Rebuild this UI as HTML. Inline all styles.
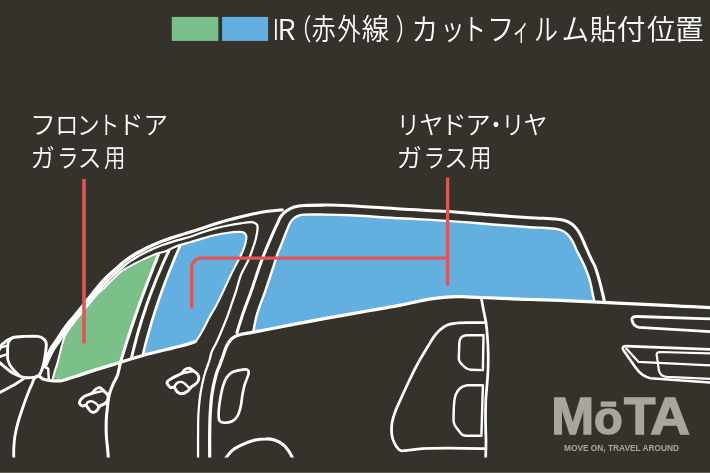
<!DOCTYPE html>
<html lang="ja">
<head>
<meta charset="utf-8">
<title>IR（赤外線）カットフィルム貼付位置</title>
<style>
html,body{margin:0;padding:0;background:#35312b;}
body{width:710px;height:473px;overflow:hidden;position:relative;font-family:"Liberation Sans","Noto Sans CJK JP",sans-serif;}
#stage{position:absolute;left:0;top:0;width:710px;height:473px;background:#35312b;overflow:hidden;}
svg{position:absolute;left:0;top:0;display:block;will-change:transform;}
.jp{font-family:"Noto Sans CJK JP DemiLight","Noto Sans CJK JP","Liberation Sans",sans-serif;font-weight:300;fill:#fff;}
.logo{font-family:"Liberation Sans",sans-serif;font-weight:700;fill:#a9a6a0;}
</style>
</head>
<body>
<div id="stage">
<svg width="710" height="473" viewBox="0 0 710 473">
<defs><clipPath id="clipdraw"><rect x="0" y="0" width="710" height="457.6"/></clipPath></defs>
<g clip-path="url(#clipdraw)">
<path d="M53.8 378.5 C54.2 377.1 55.5 372.4 56.2 370.0 C57.0 367.6 57.6 366.2 58.3 363.8 C59.0 361.4 59.7 358.2 60.4 355.4 C61.1 352.6 61.8 349.6 62.5 347.0 C63.2 344.4 63.9 341.9 64.5 340.0 C65.1 338.1 65.2 337.4 66.2 335.5 C67.2 333.6 68.7 331.3 70.3 328.9 C71.9 326.5 74.2 323.6 76.0 321.3 C77.8 319.0 79.5 316.9 81.1 315.0 C82.6 313.1 82.4 313.3 85.3 310.0 C88.2 306.7 94.8 298.7 98.2 295.0 C101.6 291.3 102.8 290.6 105.4 288.0 C108.0 285.4 111.0 282.4 113.8 279.7 C116.6 277.0 119.5 274.0 122.3 271.9 C125.1 269.8 128.7 268.0 130.7 266.9 C132.7 265.8 131.9 266.1 134.1 265.0 C136.3 263.9 141.3 261.5 144.0 260.2 C146.7 258.9 148.6 258.1 150.4 257.3 C152.2 256.5 153.6 255.8 155.0 255.3 C156.4 254.8 158.0 254.4 158.6 254.2L158.3 255.2 C157.6 256.8 155.7 261.7 154.3 265.0 C153.0 268.3 151.7 271.7 150.4 275.0 C149.1 278.3 147.8 281.7 146.6 285.0 C145.3 288.3 144.1 291.7 142.8 295.0 C141.6 298.3 140.4 301.7 139.2 305.0 C138.0 308.3 136.9 311.7 135.7 315.0 C134.6 318.3 133.4 321.7 132.3 325.0 C131.2 328.3 130.1 331.7 129.0 335.0 C127.9 338.3 126.9 341.6 125.8 345.0 C124.7 348.4 123.5 352.6 122.6 355.4 C121.7 358.2 121.0 360.7 120.7 361.8 L62 380.3 Z" fill="#7ac089"/>
<path d="M179.8 246.5 C179.1 248.1 177.0 252.8 175.6 256.0 C174.3 259.2 172.8 262.7 171.5 266.0 C170.1 269.3 168.8 272.7 167.5 276.0 C166.2 279.3 164.9 282.7 163.7 286.0 C162.4 289.3 161.3 292.7 160.1 296.0 C158.9 299.3 157.8 302.7 156.7 306.0 C155.6 309.3 154.5 312.7 153.5 316.0 C152.4 319.3 151.4 322.7 150.5 326.0 C149.5 329.3 148.6 332.7 147.7 336.0 C146.7 339.3 145.8 342.9 145.0 346.0 C144.3 349.1 143.3 353.1 143.0 354.5 L195.2 341.8 L195.2 341.8 C195.4 341.6 195.2 342.4 196.5 340.5 C197.8 338.6 200.7 334.1 202.8 330.3 C204.9 326.5 207.0 321.8 209.2 317.7 C211.4 313.6 213.9 309.9 216.0 306.0 C218.1 302.1 219.4 299.5 221.8 294.4 C224.2 289.3 227.9 281.0 230.7 275.3 C233.5 269.6 236.4 264.1 238.5 260.0 C240.6 255.9 241.8 253.7 243.0 250.7 C244.2 247.7 245.3 244.3 245.8 241.8 C246.3 239.3 246.6 237.1 246.2 235.5 C245.8 233.9 244.5 232.9 243.2 232.3 C241.9 231.7 239.0 232.0 238.2 231.9L238.2 231.9 C236.5 232.1 231.8 232.3 228.0 232.8 C224.2 233.3 219.5 234.1 215.3 235.0 C211.1 235.9 206.9 237.2 202.7 238.4 C198.5 239.6 193.8 241.0 190.0 242.2 C186.2 243.4 181.5 245.2 179.8 245.8Z" fill="#63afe0"/>
<path d="M253.5 330.5 C253.9 328.4 255.1 321.8 256.0 318.0 C256.9 314.2 257.5 312.4 259.0 308.0 C260.5 303.6 262.8 298.1 265.0 291.8 C267.2 285.5 270.3 276.1 272.3 270.0 C274.3 263.9 275.8 258.8 277.1 255.0 C278.4 251.2 278.9 250.4 280.3 247.0 C281.7 243.6 283.7 238.2 285.3 234.3 C286.9 230.4 288.5 226.0 289.8 223.5 C291.1 221.0 291.6 220.4 293.0 219.1 C294.4 217.8 296.1 216.7 298.0 215.9 C299.9 215.2 300.2 214.8 304.4 214.6 C308.6 214.4 315.8 214.5 323.4 214.6 C331.0 214.7 337.1 214.7 350.0 215.3 C362.9 215.9 384.4 217.4 400.7 218.3 C417.0 219.2 432.8 219.9 447.6 220.9 C462.4 221.9 475.8 223.1 489.5 224.2 C503.2 225.2 521.1 226.6 530.0 227.2 C538.9 227.8 538.5 227.5 542.7 227.8 C546.9 228.1 551.9 228.3 555.3 228.8 C558.7 229.3 560.9 230.0 563.0 231.0 C565.1 232.0 566.4 233.1 568.0 234.8 C569.6 236.5 571.1 238.6 572.5 241.1 C573.9 243.6 575.3 247.5 576.5 250.0 C577.7 252.5 578.6 254.0 579.6 256.0 C580.6 258.0 581.7 260.1 582.6 262.0 C583.5 263.9 584.1 264.6 585.3 267.7 C586.5 270.8 588.6 276.3 589.8 280.3 C591.0 284.3 591.6 288.4 592.3 291.8 C593.0 295.2 593.9 299.5 594.2 301.0L598.0 302.1 C591.7 301.8 571.3 300.8 560.0 300.4 C548.7 300.0 539.7 299.8 530.0 299.5 C520.3 299.2 510.0 298.7 502.0 298.4 C494.0 298.1 487.8 297.8 481.8 297.5 C475.8 297.2 471.2 296.9 466.0 296.8 C460.8 296.7 457.5 296.4 450.7 296.9 C443.9 297.4 433.6 298.4 425.3 299.8 C417.0 301.2 409.0 303.6 400.7 305.2 C392.4 306.8 383.8 308.1 375.4 309.6 C366.9 311.1 361.4 312.1 350.0 314.1 C338.6 316.1 320.3 319.3 307.0 321.8 C293.7 324.3 278.9 327.3 270.0 329.0 C261.1 330.7 256.2 331.7 253.5 332.2Z" fill="#63afe0"/>
<path d="M41.9 365.5 C43.0 362.8 46.2 354.1 48.6 349.5 C51.0 344.9 53.6 341.9 56.3 337.8 C59.0 333.7 61.5 329.5 64.9 325.0 C68.3 320.5 72.4 316.0 76.5 311.0 C80.6 306.0 85.9 299.3 89.3 295.0 C92.7 290.7 94.2 288.5 96.9 285.4 C99.6 282.2 102.6 278.9 105.4 276.1 C108.2 273.3 111.0 271.0 113.8 268.5 C116.6 266.0 119.5 263.1 122.3 260.9 C125.1 258.6 128.1 256.7 130.7 255.0 C133.3 253.3 134.7 252.4 138.0 250.6 C141.3 248.8 146.5 246.1 150.7 244.2 C154.9 242.3 159.2 240.6 163.4 239.0 C167.6 237.4 171.6 236.1 176.0 234.7 C180.4 233.3 185.6 231.8 190.0 230.4 C194.4 229.1 198.5 227.9 202.7 226.6 C206.9 225.2 211.1 223.6 215.3 222.3 C219.5 221.0 223.8 219.8 228.0 218.6 C232.2 217.4 236.5 216.2 240.7 215.2 C244.9 214.1 249.2 213.2 253.4 212.3 C257.6 211.4 261.0 210.6 266.0 209.9 C271.0 209.2 280.5 208.5 283.4 208.2L283.7 211.3 C280.8 211.6 271.4 212.3 266.4 213.0 C261.5 213.6 258.2 214.5 254.0 215.3 C249.9 216.2 245.6 217.2 241.4 218.2 C237.2 219.3 233.0 220.4 228.8 221.6 C224.6 222.8 220.4 223.9 216.2 225.3 C212.0 226.6 207.9 228.2 203.6 229.6 C199.4 230.9 195.4 232.1 190.9 233.5 C186.5 234.8 181.4 236.3 177.0 237.7 C172.6 239.2 168.7 240.5 164.6 242.1 C160.4 243.7 156.3 245.4 152.1 247.3 C148.0 249.2 142.9 251.9 139.7 253.7 C136.4 255.5 135.2 256.3 132.7 258.0 C130.2 259.7 127.3 261.6 124.6 263.8 C121.9 266.0 119.1 268.8 116.3 271.3 C113.6 273.8 110.8 276.0 108.1 278.8 C105.3 281.5 102.4 284.8 99.8 287.9 C97.2 291.0 95.7 293.1 92.3 297.4 C88.9 301.6 83.5 308.4 79.4 313.4 C75.4 318.4 71.3 322.9 67.9 327.3 C64.6 331.7 62.1 335.9 59.5 339.9 C56.8 343.9 54.3 346.8 52.0 351.3 C49.6 355.8 46.3 364.3 45.2 366.9Z" fill="#fff"/>
<g fill="none" stroke="#fff" stroke-linecap="round" stroke-linejoin="round">
<path d="M45.6 367.0 C46.8 364.5 50.2 356.0 52.6 351.6 C55.0 347.1 57.5 344.4 60.2 340.4 C62.9 336.4 65.3 332.2 68.7 327.8 C72.0 323.4 76.1 318.9 80.1 314.0 C84.2 309.0 89.6 302.2 93.1 298.0 C96.5 293.8 98.0 291.6 100.6 288.6 C103.3 285.5 106.2 282.4 108.9 279.6 C111.7 276.9 114.4 274.7 117.1 272.2 C119.9 269.7 122.7 267.0 125.4 264.8 C128.1 262.6 131.0 260.8 133.4 259.2 C135.9 257.5 137.1 256.7 140.4 255.0 C143.6 253.3 148.7 250.7 152.9 248.9 C157.0 247.1 161.2 245.6 165.3 244.1 C169.5 242.7 173.4 241.5 177.8 240.2 C182.2 238.9 187.7 237.7 191.8 236.3 C196.0 235.0 198.8 233.5 202.7 232.2 C206.6 230.9 211.1 229.5 215.3 228.4 C219.5 227.3 223.8 226.3 228.0 225.5 C232.2 224.7 236.9 223.9 240.7 223.3 C244.5 222.8 248.3 222.2 250.8 222.2 C253.3 222.2 254.4 222.7 255.5 223.4 C256.6 224.1 257.5 224.2 257.6 226.6 C257.7 229.0 256.9 234.0 256.0 238.0 C255.1 242.0 253.3 246.9 252.0 250.7 C250.7 254.5 249.9 256.9 248.0 261.0 C246.1 265.1 242.8 270.2 240.8 275.3 C238.8 280.4 237.4 286.9 235.8 291.8 C234.2 296.8 232.8 300.7 231.3 305.0 C229.8 309.3 228.5 313.5 226.9 317.7 C225.3 321.9 223.5 326.3 221.8 330.3 C220.1 334.3 218.5 338.2 216.8 341.8 C215.1 345.4 212.9 348.8 211.7 351.9 C210.5 355.0 210.6 356.6 209.4 360.5 C208.2 364.4 205.8 369.9 204.3 375.5 C202.8 381.1 201.4 387.6 200.4 394.0 C199.4 400.4 198.8 407.7 198.4 414.2 C198.0 420.7 198.2 425.2 198.1 432.8 C198.0 440.4 198.1 455.5 198.1 460.0" stroke-width="2.25"/>
<path d="M52.9 378.3 C53.3 376.8 54.6 372.2 55.3 369.7 C56.1 367.3 56.7 366.0 57.4 363.6 C58.1 361.1 58.8 358.0 59.5 355.2 C60.2 352.4 60.9 349.3 61.6 346.8 C62.3 344.2 63.0 341.7 63.6 339.7 C64.3 337.8 64.4 337.0 65.4 335.1 C66.4 333.2 67.9 330.8 69.6 328.4 C71.2 326.0 73.5 323.1 75.3 320.7 C77.1 318.4 78.9 316.3 80.4 314.4 C82.0 312.5 81.8 312.8 84.6 309.4 C87.5 306.1 94.2 298.1 97.5 294.4 C100.9 290.7 102.2 289.9 104.8 287.4 C107.4 284.8 110.3 281.7 113.2 279.0 C116.0 276.4 118.9 273.3 121.8 271.2 C124.6 269.0 128.3 267.3 130.2 266.1 C132.2 265.0 131.5 265.3 133.7 264.2 C135.9 263.1 140.9 260.7 143.6 259.4 C146.3 258.1 148.2 257.3 150.0 256.5 C151.9 255.7 153.3 255.0 154.7 254.5 C156.1 253.9 156.3 254.0 158.3 253.3 C160.4 252.7 164.1 251.9 167.0 250.7 C169.9 249.5 172.2 247.8 176.0 246.4 C179.8 245.0 185.6 243.5 190.0 242.2 C194.4 240.9 198.5 239.6 202.7 238.4 C206.9 237.2 211.1 235.9 215.3 235.0 C219.5 234.1 224.2 233.3 228.0 232.8 C231.8 232.3 235.7 232.0 238.2 231.9 C240.7 231.8 241.9 231.7 243.2 232.3 C244.5 232.9 245.8 233.9 246.2 235.5 C246.6 237.1 246.3 239.3 245.8 241.8 C245.3 244.3 244.2 247.7 243.0 250.7 C241.8 253.7 240.6 255.9 238.5 260.0 C236.4 264.1 233.5 269.6 230.7 275.3 C227.9 281.0 224.2 289.3 221.8 294.4 C219.4 299.5 218.1 302.1 216.0 306.0 C213.9 309.9 211.4 313.6 209.2 317.7 C207.0 321.8 204.9 326.5 202.8 330.3 C200.7 334.1 197.8 338.6 196.5 340.5 C195.2 342.4 195.4 341.6 195.2 341.8" stroke-width="2.15"/>
<path d="M158.3 255.2 C157.6 256.8 155.7 261.7 154.3 265.0 C153.0 268.3 151.7 271.7 150.4 275.0 C149.1 278.3 147.8 281.7 146.6 285.0 C145.3 288.3 144.1 291.7 142.8 295.0 C141.6 298.3 140.4 301.7 139.2 305.0 C138.0 308.3 136.9 311.7 135.7 315.0 C134.6 318.3 133.4 321.7 132.3 325.0 C131.2 328.3 130.1 331.7 129.0 335.0 C127.9 338.3 126.9 341.6 125.8 345.0 C124.7 348.4 123.5 352.6 122.6 355.4 C121.7 358.2 121.5 358.5 120.7 361.8 C119.8 365.1 118.7 371.3 117.5 375.0 C116.3 378.7 114.5 380.7 113.2 383.9 C111.9 387.1 110.4 390.2 109.4 394.0 C108.5 397.8 108.0 402.5 107.5 406.7 C107.0 410.9 106.5 414.7 106.3 419.4 C106.1 424.1 106.1 430.1 106.3 435.0 C106.5 439.9 107.2 444.4 107.6 448.6 C108.0 452.8 108.3 458.1 108.5 460.0" stroke-width="3.05"/>
<path d="M169.0 250.3 C168.3 251.9 166.0 256.7 164.5 260.0 C163.1 263.3 161.6 266.7 160.2 270.0 C158.8 273.3 157.4 276.7 156.0 280.0 C154.7 283.3 153.4 286.7 152.1 290.0 C150.9 293.3 149.6 296.7 148.4 300.0 C147.2 303.3 146.1 306.7 145.0 310.0 C143.9 313.3 142.8 316.7 141.7 320.0 C140.7 323.3 139.7 326.7 138.7 330.0 C137.8 333.3 136.8 336.7 136.0 340.0 C135.1 343.3 134.1 346.9 133.4 350.0 C132.6 353.1 131.8 356.9 131.4 358.3" stroke-width="2.95"/>
<path d="M179.8 246.5 C179.1 248.1 177.0 252.8 175.6 256.0 C174.3 259.2 172.8 262.7 171.5 266.0 C170.1 269.3 168.8 272.7 167.5 276.0 C166.2 279.3 164.9 282.7 163.7 286.0 C162.4 289.3 161.3 292.7 160.1 296.0 C158.9 299.3 157.8 302.7 156.7 306.0 C155.6 309.3 154.5 312.7 153.5 316.0 C152.4 319.3 151.4 322.7 150.5 326.0 C149.5 329.3 148.6 332.7 147.7 336.0 C146.7 339.3 145.8 342.9 145.0 346.0 C144.3 349.1 143.3 353.1 143.0 354.5" stroke-width="2.65"/>
<path d="M39.0 376.0 C39.9 376.6 42.0 378.7 44.4 379.5 C46.8 380.3 50.6 380.7 53.2 380.9 C55.8 381.1 58.3 380.9 60.0 380.8 C61.7 380.7 60.7 380.9 63.4 380.2 C66.1 379.4 71.6 377.7 76.0 376.3 C80.4 374.9 82.2 374.1 90.0 371.6 C97.8 369.1 113.9 364.3 123.0 361.5 C132.1 358.7 135.0 357.6 144.5 355.0 C154.0 352.4 171.6 348.4 180.0 346.2 C188.4 344.0 192.7 342.5 195.2 341.8" stroke-width="3.25"/>
<path d="M44.4 366.8 L48.2 368.7 L48.8 379.5" stroke-width="2.45"/>
<path d="M237.0 332.5 C237.6 330.4 239.4 324.4 240.8 320.2 C242.2 315.9 243.6 311.7 245.3 307.0 C247.0 302.3 248.8 298.1 251.0 291.8 C253.2 285.5 256.5 275.1 258.6 269.0 C260.7 262.9 261.7 260.4 263.8 255.0 C265.9 249.6 269.3 241.7 271.4 236.8 C273.5 231.9 274.9 228.8 276.5 225.4 C278.1 222.0 279.2 218.9 280.9 216.5 C282.6 214.1 284.4 212.4 286.6 210.8 C288.8 209.2 291.2 207.9 294.2 207.0 C297.2 206.1 299.5 205.7 304.4 205.4 C309.3 205.1 315.8 205.1 323.4 205.1 C331.0 205.1 337.1 205.0 350.0 205.7 C362.9 206.3 384.4 208.0 400.7 209.0 C417.0 210.0 432.8 210.5 447.6 211.5 C462.4 212.5 475.8 213.8 489.5 214.8 C503.2 215.9 521.1 217.2 530.0 217.8 C538.9 218.4 538.5 218.1 542.7 218.3 C546.9 218.5 551.5 218.7 555.3 219.1 C559.1 219.5 562.8 220.0 565.5 220.8 C568.2 221.6 569.9 222.6 571.8 224.0 C573.7 225.4 575.4 227.2 576.9 229.1 C578.4 231.0 579.2 232.4 580.7 235.4 C582.2 238.4 584.1 243.0 585.8 246.8 C587.5 250.6 589.2 254.7 590.8 258.2 C592.4 261.7 594.1 264.0 595.5 267.7 C596.9 271.4 598.1 276.1 599.3 280.3 C600.5 284.5 601.6 289.5 602.5 293.0 C603.4 296.5 604.1 300.1 604.4 301.5" stroke-width="3.05"/>
<path d="M253.5 330.5 C253.9 328.4 255.1 321.8 256.0 318.0 C256.9 314.2 257.5 312.4 259.0 308.0 C260.5 303.6 262.8 298.1 265.0 291.8 C267.2 285.5 270.3 276.1 272.3 270.0 C274.3 263.9 275.8 258.8 277.1 255.0 C278.4 251.2 278.9 250.4 280.3 247.0 C281.7 243.6 283.7 238.2 285.3 234.3 C286.9 230.4 288.5 226.0 289.8 223.5 C291.1 221.0 291.6 220.4 293.0 219.1 C294.4 217.8 296.1 216.7 298.0 215.9 C299.9 215.2 300.2 214.8 304.4 214.6 C308.6 214.4 315.8 214.5 323.4 214.6 C331.0 214.7 337.1 214.7 350.0 215.3 C362.9 215.9 384.4 217.4 400.7 218.3 C417.0 219.2 432.8 219.9 447.6 220.9 C462.4 221.9 475.8 223.1 489.5 224.2 C503.2 225.2 521.1 226.6 530.0 227.2 C538.9 227.8 538.5 227.5 542.7 227.8 C546.9 228.1 551.9 228.3 555.3 228.8 C558.7 229.3 560.9 230.0 563.0 231.0 C565.1 232.0 566.4 233.1 568.0 234.8 C569.6 236.5 571.1 238.6 572.5 241.1 C573.9 243.6 575.3 247.5 576.5 250.0 C577.7 252.5 578.6 254.0 579.6 256.0 C580.6 258.0 581.7 260.1 582.6 262.0 C583.5 263.9 584.1 264.6 585.3 267.7 C586.5 270.8 588.6 276.3 589.8 280.3 C591.0 284.3 591.6 288.4 592.3 291.8 C593.0 295.2 593.9 299.5 594.2 301.0" stroke-width="2.45"/>
<path d="M209.7 460.0 C209.7 455.5 209.6 440.4 209.7 432.8 C209.8 425.2 209.8 420.7 210.2 414.2 C210.6 407.7 211.1 400.4 212.0 394.0 C212.9 387.6 214.6 380.3 215.9 375.5 C217.2 370.7 218.6 368.3 219.8 365.0 C221.0 361.7 221.9 358.9 223.1 355.7 C224.3 352.5 225.4 348.5 226.9 345.6 C228.4 342.8 229.9 340.4 232.0 338.6 C234.1 336.8 236.0 335.9 239.6 334.8 C243.2 333.7 248.4 333.2 253.5 332.2 C258.6 331.2 261.1 330.7 270.0 329.0 C278.9 327.3 293.7 324.3 307.0 321.8 C320.3 319.3 338.6 316.1 350.0 314.1 C361.4 312.1 366.9 311.1 375.4 309.6 C383.8 308.1 392.4 306.8 400.7 305.2 C409.0 303.6 417.0 301.2 425.3 299.8 C433.6 298.4 443.9 297.4 450.7 296.9 C457.5 296.4 460.8 296.7 466.0 296.8 C471.2 296.9 475.8 297.2 481.8 297.5 C487.8 297.8 494.0 298.1 502.0 298.4 C510.0 298.7 520.3 299.2 530.0 299.5 C539.7 299.8 548.7 300.0 560.0 300.4 C571.3 300.8 583.0 301.4 598.0 302.1 C613.0 302.8 635.8 304.0 650.0 304.7 C664.2 305.4 672.7 305.8 683.0 306.3 C693.3 306.8 707.2 307.4 712.0 307.6" stroke-width="3.25"/>
<path d="M-3.0 353.0 C-2.5 352.2 -0.9 349.9 0.0 348.4 C0.9 346.9 0.4 345.8 2.5 344.0 C4.6 342.2 8.9 339.0 12.7 337.7 C16.5 336.4 21.1 336.6 25.3 336.4 C29.5 336.2 34.9 336.0 38.0 336.4 C41.1 336.8 42.3 337.7 43.7 339.0 C45.1 340.3 46.1 341.1 46.3 344.0 C46.5 346.9 45.6 352.7 45.0 356.7 C44.4 360.7 43.5 364.9 42.5 368.0 C41.5 371.1 40.5 373.5 39.3 375.0 C38.1 376.5 37.9 376.6 35.5 377.0 C33.1 377.4 28.8 378.3 25.0 377.6 C21.2 376.9 16.9 375.4 12.7 373.0 C8.5 370.6 2.6 365.2 0.0 363.0 C-2.6 360.8 -2.5 360.5 -3.0 360.0" stroke-width="2.95"/>
<path d="M11.5 338.3 C10.9 339.1 8.8 340.7 8.2 343.0 C7.5 345.3 7.6 349.1 7.6 352.0 C7.6 354.9 7.3 357.8 8.0 360.5 C8.7 363.2 10.1 365.5 12.0 368.0 C13.9 370.5 18.2 374.4 19.5 375.7" stroke-width="2.85"/>
<path d="M-1.0 348.1 L6.2 345.9" stroke-width="2.45"/>
<path d="M-1.0 357.0 L6.0 354.6" stroke-width="2.45"/>
<path d="M-2.0 393.5 L14.0 385.0 L25.3 377.6" stroke-width="2.85"/>
<path d="M37.0 376.0 C36.5 376.5 34.9 377.5 34.0 379.0 C33.1 380.5 32.4 383.2 31.6 385.0 C30.8 386.8 30.7 386.5 29.4 389.7 C28.1 392.9 25.7 399.2 23.9 404.4 C22.1 409.6 19.9 415.8 18.4 421.0 C16.9 426.2 15.8 431.1 15.0 435.7 C14.2 440.3 14.0 444.6 13.8 448.6 C13.6 452.7 13.8 458.1 13.8 460.0" stroke-width="2.85"/>
<path d="M167.1 382.2 C167.5 380.6 170.4 379.3 172.8 377.8 C175.2 376.3 179.7 374.8 181.7 373.4 C183.7 372.0 183.6 370.5 184.9 369.6 C186.2 368.8 187.9 368.1 189.3 368.3 C190.7 368.5 191.7 369.9 193.1 370.8 C194.5 371.8 196.6 372.7 197.5 374.0 C198.4 375.3 198.9 376.9 198.8 378.4 C198.7 379.9 198.1 381.5 196.9 382.9 C195.7 384.3 193.5 385.2 191.8 386.7 C190.1 388.2 188.5 390.6 186.8 391.8 C185.1 393.0 183.3 393.7 181.7 393.7 C180.1 393.7 178.5 392.9 177.2 391.8 C175.9 390.7 175.2 388.1 174.0 387.3 C172.8 386.6 171.5 388.2 170.3 387.3 C169.2 386.4 166.7 383.8 167.1 382.2Z" stroke-width="2.95"/>
<path d="M174.0 387.3 C174.5 386.6 175.8 383.8 177.2 382.9 C178.6 382.0 180.5 381.6 182.3 382.2 C184.1 382.8 186.8 385.6 188.0 386.7 C189.2 387.8 189.1 388.3 189.3 388.6" stroke-width="2.45"/>
<path d="M181.7 373.4 C182.8 373.2 186.1 372.5 188.0 372.1 C189.9 371.7 192.2 371.0 193.1 370.8" stroke-width="2.45"/>
<path d="M79.6 401.6 C80.2 400.3 82.1 397.9 84.1 396.5 C86.1 395.1 89.7 394.7 91.7 393.4 C93.7 392.1 94.7 389.8 96.1 388.9 C97.5 387.9 98.6 387.4 99.9 387.7 C101.2 388.0 102.4 389.6 103.7 390.8 C105.0 392.0 106.8 393.2 107.5 394.6 C108.2 396.0 108.3 397.6 107.9 399.1 C107.5 400.6 106.3 402.4 105.0 403.5 C103.7 404.6 101.2 404.9 99.9 406.0 C98.6 407.1 98.5 408.8 97.4 409.9 C96.4 411.0 94.9 412.3 93.6 412.4 C92.3 412.5 91.1 411.7 89.8 410.5 C88.5 409.3 87.2 406.1 86.0 405.4 C84.8 404.6 83.8 406.1 82.8 406.0 C81.8 405.9 80.7 405.2 80.2 404.5 C79.7 403.8 78.9 402.9 79.6 401.6Z" stroke-width="2.95"/>
<path d="M86.0 405.4 C86.3 404.9 86.7 402.8 87.9 402.2 C89.1 401.6 91.3 401.1 93.0 401.6 C94.7 402.1 97.1 404.4 98.0 405.4 C98.9 406.3 98.5 407.0 98.6 407.3" stroke-width="2.45"/>
<path d="M91.7 393.4 C92.8 393.2 96.0 392.5 98.0 392.1 C100.0 391.7 102.8 391.0 103.7 390.8" stroke-width="2.45"/>
<path d="M228.3 375.5 C229.7 374.1 231.2 372.6 233.7 371.6 C236.1 370.6 240.7 369.9 243.0 369.6 C245.3 369.3 246.8 369.3 247.7 370.0 C248.6 370.7 249.0 371.5 248.5 374.0 C248.0 376.5 245.6 381.2 244.6 384.8 C243.6 388.4 243.0 392.0 242.3 395.6 C241.7 399.2 241.5 403.1 240.7 406.5 C239.9 409.9 239.0 413.4 237.6 415.8 C236.2 418.2 234.4 420.1 232.2 421.2 C230.0 422.3 226.5 422.7 224.4 422.7 C222.3 422.7 220.8 422.3 219.8 421.2 C218.8 420.1 218.7 418.8 218.6 415.8 C218.5 412.8 218.9 407.8 219.5 403.4 C220.1 399.0 221.2 393.3 222.1 389.4 C223.0 385.5 224.2 382.4 225.2 380.1 C226.2 377.8 226.9 376.9 228.3 375.5Z" stroke-width="2.65"/>
<path d="M224.5 460.0 C224.8 459.6 225.0 459.1 226.3 457.5 C227.6 455.9 229.9 452.4 232.3 450.4 C234.7 448.4 237.0 447.1 240.7 445.4 C244.3 443.7 250.0 441.4 254.2 440.3 C258.4 439.2 262.6 438.9 266.0 438.9 C269.4 438.8 271.7 439.1 274.5 440.0 C277.3 440.9 280.6 442.6 283.0 444.5 C285.4 446.4 287.3 449.1 288.9 451.3 C290.4 453.5 291.5 456.1 292.3 457.5 C293.1 458.9 293.3 459.6 293.5 460.0" stroke-width="3.05"/>
<path d="M481.3 297.7 C481.7 299.8 482.7 305.8 483.5 310.0 C484.3 314.2 485.4 318.5 486.0 322.7 C486.6 326.9 486.9 330.1 487.3 335.3 C487.7 340.5 488.1 348.2 488.2 354.0 C488.3 359.8 488.2 364.8 488.0 370.0 C487.8 375.2 487.4 380.0 487.0 385.0 C486.6 390.0 486.1 394.2 485.8 400.0 C485.6 405.8 485.5 413.0 485.5 420.0 C485.5 427.0 486.0 435.3 486.0 442.0 C486.0 448.7 485.7 457.0 485.6 460.0" stroke-width="2.75"/>
<path d="M486.0 322.7 C482.8 322.7 472.3 322.6 467.0 322.7 C461.7 322.8 457.8 322.9 454.4 323.3 C451.0 323.7 449.1 324.1 446.8 325.2 C444.5 326.2 442.5 327.7 440.4 329.6 C438.3 331.5 436.1 333.7 434.0 336.6 C431.9 339.5 430.0 343.0 427.7 346.8 C425.4 350.6 422.3 355.5 420.1 359.4 C417.9 363.3 416.1 366.7 414.4 370.0 C412.7 373.3 412.4 374.0 410.0 379.0 C407.6 384.0 402.8 394.5 400.3 400.0 C397.8 405.5 396.6 408.1 395.2 411.8 C393.8 415.5 392.8 418.9 392.2 422.0 C391.6 425.1 391.4 427.6 391.5 430.4 C391.6 433.2 391.8 436.1 392.7 438.9 C393.6 441.7 395.5 445.3 396.9 447.3 C398.3 449.3 399.4 450.2 401.1 450.7 C402.8 451.2 403.5 450.7 407.0 450.4 C410.5 450.1 415.5 449.1 422.3 448.7 C429.1 448.3 437.0 448.2 447.6 448.2 C458.2 448.2 479.4 448.6 485.8 448.7" stroke-width="2.75"/>
<path d="M483.5 335.3 L466.5 335.3 Q459.6 335.8 459.3 343 L458.8 359 Q459 361 460.5 362.8 L463.5 366 Q467 369.5 471 369.7 L482.9 370.1 Z" stroke-width="2.45"/>
<path d="M482.9 385.3 L467.5 385.3 Q459.4 386 455.8 394.5 Q454 399 453.7 410.7 L453.5 420 Q453.6 424 455.5 426.5 L460.5 433 Q462.5 435.8 466 435.8 L481.4 435.8 Z" stroke-width="2.45"/>
<path d="M712 319 L637 316.5 Q631.5 316.3 632 320 Q633.3 326.6 639 327.3 L712 331.7" stroke-width="2.85"/>
<path d="M712 349.5 L626.5 346.1 Q621.3 346 623.3 350 L635.5 367.6 Q642 376.8 650.5 378.2 L712 382.6" stroke-width="2.65"/>
<path d="M626.3 348.5 L638.3 361.8 L712 365.6" stroke-width="2.25"/>
<path d="M712 353.5 L660 352 Q656.3 352 656.7 355 L658.9 370.4 Q659.8 376.2 666.7 376.8 L712 379.1" stroke-width="2.25"/>
</g>
<path d="M84 179 V343.6" stroke="#e35555" stroke-width="3.6" fill="none"/>
<path d="M447.6 177.5 V285.5" stroke="#e35555" stroke-width="3.3" fill="none"/>
<path d="M191.7 308.6 V267.7 A9.5 9.5 0 0 1 201.2 258.2 H448" stroke="#e35555" stroke-width="3.3" fill="none"/>
</g>
<rect x="171.8" y="16.9" width="46.5" height="24" fill="#7ac089"/>
<rect x="222.1" y="16.9" width="46" height="24" fill="#63afe0"/>
<text class="jp"><tspan x="273.1" y="40" font-size="28.2" textLength="5.74" lengthAdjust="spacingAndGlyphs">I</tspan><tspan x="277.5" y="40" font-size="28.2" textLength="18.04" lengthAdjust="spacingAndGlyphs">R</tspan><tspan x="289.4" y="39.8" font-size="29" textLength="22.00" lengthAdjust="spacingAndGlyphs">（</tspan><tspan x="311.8" y="39.8" font-size="29" textLength="23.91" lengthAdjust="spacingAndGlyphs">赤</tspan><tspan x="337.4" y="39.8" font-size="29" textLength="23.16" lengthAdjust="spacingAndGlyphs">外</tspan><tspan x="361.8" y="39.8" font-size="29" textLength="27.55" lengthAdjust="spacingAndGlyphs">線</tspan><tspan x="395.8" y="39.8" font-size="29" textLength="21.60" lengthAdjust="spacingAndGlyphs">）</tspan><tspan x="411.4" y="40.2" font-size="30" textLength="26.71" lengthAdjust="spacingAndGlyphs">カ</tspan><tspan x="440.6" y="40.2" font-size="30" textLength="24.24" lengthAdjust="spacingAndGlyphs">ッ</tspan><tspan x="462.8" y="40.2" font-size="30" textLength="23.14" lengthAdjust="spacingAndGlyphs">ト</tspan><tspan x="486.9" y="40.2" font-size="30" textLength="27.32" lengthAdjust="spacingAndGlyphs">フ</tspan><tspan x="512.4" y="40.2" font-size="30" textLength="17.19" lengthAdjust="spacingAndGlyphs">ィ</tspan><tspan x="534.1" y="40.2" font-size="30" textLength="23.98" lengthAdjust="spacingAndGlyphs">ル</tspan><tspan x="561.5" y="40.2" font-size="30" textLength="27.76" lengthAdjust="spacingAndGlyphs">ム</tspan><tspan x="589.7" y="39.8" font-size="28.7" textLength="26.74" lengthAdjust="spacingAndGlyphs">貼</tspan><tspan x="616.8" y="39.8" font-size="28.7">付</tspan><tspan x="646.9" y="39.8" font-size="28.7">位</tspan><tspan x="675.0" y="39.8" font-size="28.7">置</tspan></text>
<text class="jp" y="134" font-size="25.5"><tspan x="30.1" textLength="26.01" lengthAdjust="spacingAndGlyphs">フ</tspan><tspan x="55.3" textLength="23.24" lengthAdjust="spacingAndGlyphs">ロ</tspan><tspan x="77.0" textLength="22.73" lengthAdjust="spacingAndGlyphs">ン</tspan><tspan x="98.4" textLength="20.78" lengthAdjust="spacingAndGlyphs">ト</tspan><tspan x="117.7" textLength="26.01" lengthAdjust="spacingAndGlyphs">ド</tspan><tspan x="143.6" textLength="24.50" lengthAdjust="spacingAndGlyphs">ア</tspan></text>
<text class="jp" y="167.2" font-size="25.5"><tspan x="30.6" textLength="24.40" lengthAdjust="spacingAndGlyphs">ガ</tspan><tspan x="56.9" textLength="21.64" lengthAdjust="spacingAndGlyphs">ラ</tspan><tspan x="77.8" textLength="23.85" lengthAdjust="spacingAndGlyphs">ス</tspan><tspan x="104.0" textLength="21.53" lengthAdjust="spacingAndGlyphs">用</tspan></text>
<text class="jp" y="134" font-size="25.5"><tspan x="396.6" textLength="23.64" lengthAdjust="spacingAndGlyphs">リ</tspan><tspan x="419.2" textLength="24.17" lengthAdjust="spacingAndGlyphs">ヤ</tspan><tspan x="440.8" textLength="26.01" lengthAdjust="spacingAndGlyphs">ド</tspan><tspan x="465.2">ア</tspan><tspan x="484.7" textLength="22.50" lengthAdjust="spacingAndGlyphs">・</tspan><tspan x="501.3" textLength="23.45" lengthAdjust="spacingAndGlyphs">リ</tspan><tspan x="523.6" textLength="24.05" lengthAdjust="spacingAndGlyphs">ヤ</tspan></text>
<text class="jp" y="167.2" font-size="25.5"><tspan x="396.5">ガ</tspan><tspan x="423.5" textLength="21.64" lengthAdjust="spacingAndGlyphs">ラ</tspan><tspan x="444.2" textLength="23.72" lengthAdjust="spacingAndGlyphs">ス</tspan><tspan x="469.6" textLength="22.00" lengthAdjust="spacingAndGlyphs">用</tspan></text>
<text class="logo" y="434" font-size="51.5" stroke="#a9a6a0" stroke-width="1.4" stroke-linejoin="miter"><tspan x="551.3">M</tspan><tspan x="594.1" font-size="47">ō</tspan><tspan x="624">T</tspan><tspan x="650.35" textLength="39.72" lengthAdjust="spacingAndGlyphs">A</tspan></text>
<text class="logo" x="564" y="451.2" font-size="8.2" textLength="115.1" lengthAdjust="spacingAndGlyphs">MOVE ON, TRAVEL AROUND</text>
<rect x="0" y="472" width="710" height="1" fill="#605d57"/>

</svg>
</div>
</body>
</html>
